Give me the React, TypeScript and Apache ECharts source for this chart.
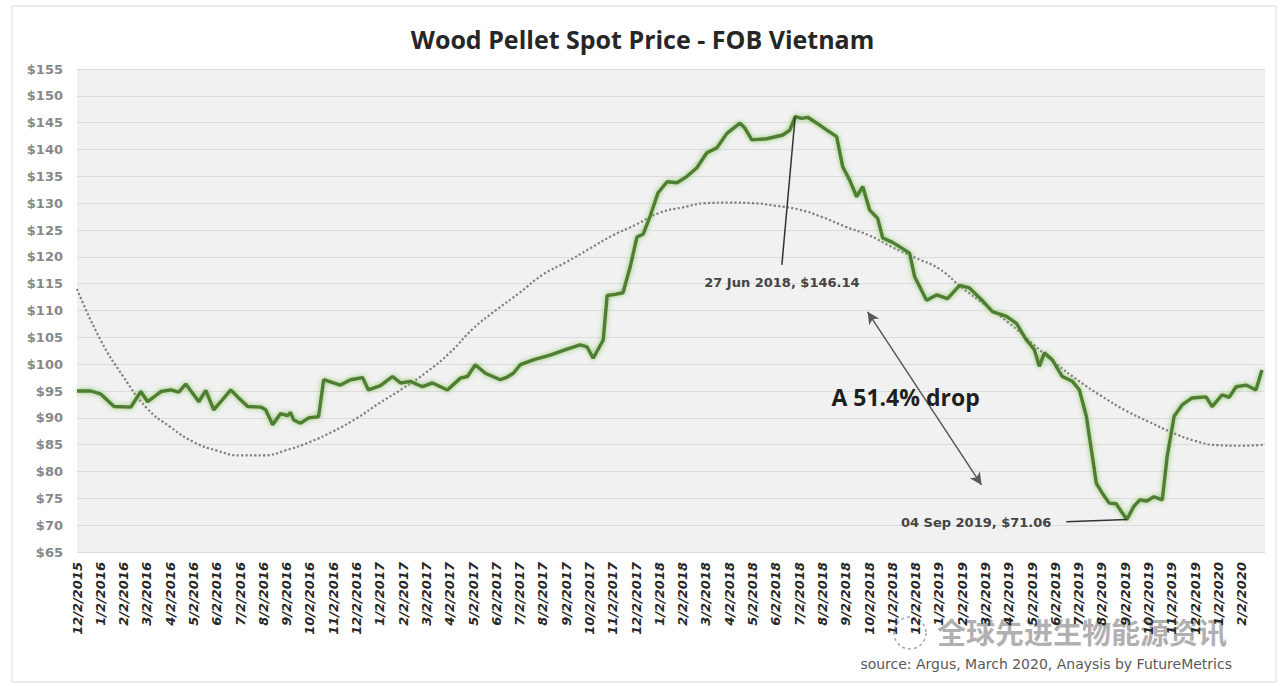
import React, { useEffect, useRef } from 'react';
import * as echarts from 'echarts';

// Month tick labels (one per month, index = months since 2 Dec 2015)
const tickLabels = [
  '12/2/2015',
  '1/2/2016', '2/2/2016', '3/2/2016', '4/2/2016', '5/2/2016', '6/2/2016',
  '7/2/2016', '8/2/2016', '9/2/2016', '10/2/2016', '11/2/2016', '12/2/2016',
  '1/2/2017', '2/2/2017', '3/2/2017', '4/2/2017', '5/2/2017', '6/2/2017',
  '7/2/2017', '8/2/2017', '9/2/2017', '10/2/2017', '11/2/2017', '12/2/2017',
  '1/2/2018', '2/2/2018', '3/2/2018', '4/2/2018', '5/2/2018', '6/2/2018',
  '7/2/2018', '8/2/2018', '9/2/2018', '10/2/2018', '11/2/2018', '12/2/2018',
  '1/2/2019', '2/2/2019', '3/2/2019', '4/2/2019', '5/2/2019', '6/2/2019',
  '7/2/2019', '8/2/2019', '9/2/2019', '10/2/2019', '11/2/2019', '12/2/2019',
  '1/2/2020', '2/2/2020',
];

// Spot price readings: position in months since 2 Dec 2015, and USD/t
const priceMonthOffset = [
  0, 0.6, 1.03, 1.59, 2.31, 2.74, 3.03, 3.6, 4.03, 4.37, 4.67, 5.01, 5.23, 5.53, 5.87, 6.17,
  6.6, 6.94, 7.33, 7.89, 8.1, 8.4, 8.74, 9.04, 9.17, 9.3, 9.6, 9.94, 10.37, 10.59, 11.01,
  11.31, 11.74, 12.26, 12.51, 13.03, 13.54, 13.89, 14.31, 14.83, 15.26, 15.9, 16.46, 16.76,
  17.1, 17.53, 18.17, 18.47, 18.73, 19.03, 19.59, 20.31, 21.04, 21.6, 21.9, 22.16, 22.59,
  22.76, 23.1, 23.44, 23.74, 24.04, 24.3, 24.6, 24.94, 25.33, 25.76, 26.19, 26.61, 27.04,
  27.47, 27.9, 28.46, 28.67, 28.97, 29.61, 30.3, 30.6, 30.83, 31.11, 31.37, 31.76, 32.19,
  32.61, 32.87, 33.17, 33.47, 33.73, 34.03, 34.37, 34.59, 35.01, 35.31, 35.74, 35.96, 36.47,
  36.9, 37.37, 37.89, 38.31, 38.83, 39.3, 39.9, 40.33, 40.76, 41.1, 41.31, 41.53, 41.87,
  42.3, 42.73, 43.03, 43.33, 43.59, 43.76, 44.01, 44.31, 44.61, 44.87, 45.07, 45.37, 45.63,
  45.93, 46.23, 46.59, 46.8, 47.1, 47.44, 47.87, 48.47, 48.73, 49.16, 49.46, 49.76, 50.19,
  50.61, 50.87,
];
const priceUsd = [
  95.0, 95.0, 94.4, 92.1, 92.0, 94.9, 93.0, 94.9, 95.2, 94.8, 96.3, 94.3, 93.0, 95.1, 91.5, 93.0,
  95.2, 93.7, 92.1, 92.0, 91.5, 88.7, 90.8, 90.4, 91.0, 89.6, 89.0, 90.0, 90.2, 97.1, 96.5,
  96.1, 97.1, 97.5, 95.2, 96.0, 97.7, 96.5, 96.8, 95.8, 96.5, 95.2, 97.4, 97.7,
  99.9, 98.3, 97.1, 97.6, 98.3, 99.9, 100.8, 101.7, 102.8, 103.6, 103.2, 101.1, 104.5,
  112.8, 113.0, 113.3, 118.0, 123.7, 124.2, 127.5, 131.9, 134.0, 133.8, 135.0, 136.6, 139.4,
  140.3, 143.0, 144.9, 144.0, 141.8, 142.0, 142.7, 143.6, 146.14, 145.8, 146.0, 144.9, 143.6,
  142.4, 136.8, 134.3, 131.2, 133.1, 128.7, 127.2, 123.5, 122.7, 121.9, 120.7, 116.3, 111.9,
  112.9, 112.2, 114.7, 114.2, 112.0, 109.8, 108.9, 107.6, 104.5, 102.7, 99.6, 102.1, 100.8,
  97.7, 96.8, 95.2, 90.3, 82.8, 77.8, 76.0, 74.1, 74.0, 72.3, 71.06, 73.5, 74.7,
  74.5, 75.3, 74.7, 82.8, 90.3, 92.4, 93.7, 93.9, 92.1, 94.3, 93.8, 95.8, 96.1,
  95.2, 98.9,
];

// Polynomial trend line read at each month tick (index 0..51)
const trendMonthly = [
  114.0, 104.6, 97.6, 91.8, 88.3, 85.5, 83.9, 83.0, 83.0, 84.0, 85.5, 87.5, 89.9,
  92.8, 95.5, 98.5, 102.1, 106.6, 110.1, 113.3, 116.7, 119.0, 121.5, 124.0, 126.0, 128.2,
  129.2, 130.0, 130.1, 130.0, 129.5, 128.8, 127.4, 125.6, 124.0, 121.8, 119.8, 117.8, 114.2,
  111.0, 107.7, 103.9, 100.2, 96.9, 94.0, 91.4, 89.3, 87.3, 85.7, 84.9, 84.8, 85.0,
];

const peakLabel = '27 Jun 2018, $146.14';
const lowLabel = '04 Sep 2019, $71.06';
const dropLabel = 'A 51.4% drop';
const titleText = 'Wood Pellet Spot Price - FOB Vietnam';
const sourceText = 'source: Argus, March 2020, Anaysis by FutureMetrics';
const watermarkText = '全球先进生物能源资讯';

export default function App() {
  const ref = useRef<HTMLDivElement>(null);

  useEffect(() => {
    document.body.style.margin = '0';
    if (!ref.current) return;
    const chart = echarts.init(ref.current, undefined, { renderer: 'svg' });

    const priceData = priceMonthOffset.map((m, i) => [m, priceUsd[i]]);
    const trendData = trendMonthly.map((v, i) => [i, v]);

    const annoText = {
      show: true,
      position: 'inside',
      color: '#444444',
      fontSize: 13,
      fontWeight: 'bold',
      fontFamily: '"DejaVu Sans", sans-serif',
    };

    chart.setOption({
      animation: false,
      backgroundColor: '#ffffff',
      title: {
        text: titleText,
        left: 'center',
        top: 21,
        textStyle: {
          fontFamily: '"Open Sans", "Liberation Sans", sans-serif',
          fontWeight: 'bold',
          fontSize: 25,
          color: '#262626',
        },
      },
      grid: {
        left: 77,
        right: 20,
        top: 69,
        bottom: 134,
        show: true,
        backgroundColor: '#f1f1f1',
        borderWidth: 0,
      },
      xAxis: {
        type: 'value',
        min: 0,
        max: 51,
        interval: 1,
        axisLine: { show: false },
        axisTick: { show: false },
        splitLine: { show: false },
        axisLabel: {
          rotate: 90,
          margin: 10,
          showMaxLabel: false,
          color: '#262626',
          fontSize: 13,
          fontWeight: 'bold',
          fontStyle: 'italic',
          fontFamily: '"DejaVu Sans", sans-serif',
          formatter: (v: number) => tickLabels[Math.round(v)] ?? '',
        },
      },
      yAxis: {
        type: 'value',
        min: 65,
        max: 155,
        interval: 5,
        axisLine: { show: false },
        axisTick: { show: false },
        splitLine: { show: true, lineStyle: { color: '#dcdcdc', width: 1 } },
        axisLabel: {
          margin: 14,
          color: '#888888',
          fontSize: 13,
          fontWeight: 'bold',
          fontFamily: '"DejaVu Sans", sans-serif',
          formatter: (v: number) => '$' + v,
        },
      },
      series: [
        {
          type: 'line',
          name: 'Trend',
          data: trendData,
          smooth: true,
          symbol: 'none',
          silent: true,
          lineStyle: { color: '#808080', width: 2.2, type: 'dotted' },
          z: 2,
          markLine: {
            silent: true,
            symbol: ['arrow', 'arrow'],
            symbolSize: [9, 12],
            lineStyle: { color: '#595959', width: 1.5, type: 'solid' },
            label: { show: false },
            data: [[{ coord: [33.94, 109.75] }, { coord: [38.83, 77.5] }]],
          },
        },
        {
          type: 'line',
          name: 'Spot price',
          data: priceData,
          symbol: 'none',
          silent: true,
          lineStyle: {
            color: '#4f7d30',
            width: 3.4,
            shadowColor: 'rgba(120, 190, 80, 0.85)',
            shadowBlur: 5,
          },
          z: 3,
          markLine: {
            silent: true,
            symbol: ['none', 'none'],
            lineStyle: { color: '#333333', width: 1.5, type: 'solid' },
            label: { show: false },
            data: [
              [{ coord: [30.83, 146.14] }, { coord: [30.26, 118.5] }],
              [{ coord: [42.47, 70.64] }, { coord: [45.07, 71.06] }],
            ],
          },
          markPoint: {
            silent: true,
            symbol: 'rect',
            symbolSize: 1,
            itemStyle: { color: 'rgba(0,0,0,0)' },
            data: [
              { coord: [30.26, 115.15], label: { ...annoText, formatter: peakLabel } },
              { coord: [38.6, 70.5], label: { ...annoText, formatter: lowLabel } },
              {
                coord: [35.57, 93.9],
                label: {
                  ...annoText,
                  formatter: dropLabel,
                  fontSize: 23,
                  color: '#1f1f1f',
                  fontFamily: '"Open Sans", "Liberation Sans", sans-serif',
                },
              },
            ],
          },
        },
      ],
      graphic: [
        {
          type: 'rect',
          shape: { x: 12, y: 6, width: 1264, height: 676 },
          style: { fill: 'none', stroke: '#d9d9d9', lineWidth: 1 },
          silent: true,
          z: -10,
        },
        {
          type: 'circle',
          shape: { cx: 910, cy: 633, r: 16 },
          style: { fill: 'none', stroke: '#a6a6a6', lineWidth: 1.5, lineDash: [3, 3] },
          silent: true,
        },
        {
          type: 'text',
          x: 937,
          y: 616,
          style: {
            text: watermarkText,
            font: 'bold 29px "Noto Sans CJK SC", sans-serif',
            fill: 'rgba(150,150,150,0.75)',
            stroke: '#ffffff',
            lineWidth: 1,
          },
          silent: true,
        },
        {
          type: 'text',
          x: 1232,
          y: 657,
          style: {
            text: sourceText,
            align: 'right',
            font: '14px "DejaVu Sans", sans-serif',
            fill: '#595959',
          },
          silent: true,
        },
      ],
    });

    return () => chart.dispose();
  }, []);

  return <div ref={ref} style={{ width: 1285, height: 686 }} />;
}
